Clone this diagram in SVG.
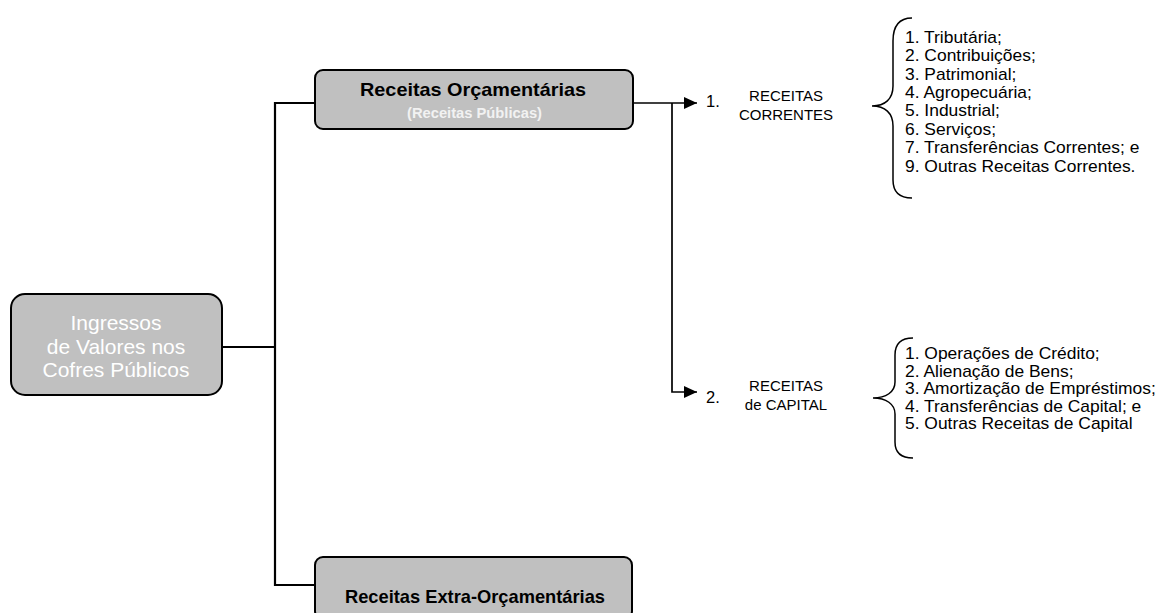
<svg xmlns="http://www.w3.org/2000/svg" width="1161" height="613" viewBox="0 0 1161 613">
<defs>
<style>
.box{fill:#c0c0c0;stroke:#000;stroke-width:2}
.t{font-family:"Liberation Sans",Arial,sans-serif}
.ing{font-size:21px;fill:#fff;text-anchor:middle}
.ttl{font-size:19px;font-weight:bold;fill:#000}
.sub{font-size:14px;font-weight:bold;fill:#f2f2f2}
.cat{font-size:15px;fill:#000;text-anchor:middle}
.num{font-size:16.5px;fill:#000}
.lst{font-size:16px;fill:#000}
.ln{fill:none;stroke:#000;stroke-width:2.2}
.lr{fill:none;stroke:#000;stroke-width:1.7}
.br{fill:none;stroke:#000;stroke-width:1.5}
</style>
<marker id="arr" markerWidth="14" markerHeight="12" refX="13" refY="6" orient="auto" markerUnits="userSpaceOnUse">
<path d="M0,0 L13,6 L0,12 z" fill="#000"/>
</marker>
</defs>
<rect width="1161" height="613" fill="#fff"/>

<g id="connectors">
<path class="ln" d="M222,347 H275"/>
<path class="ln" d="M315,103 H275 V585 H315"/>
<path class="lr" d="M633,103 H697" marker-end="url(#arr)"/>
<path class="lr" d="M672,103 V392 H697" marker-end="url(#arr)"/>
</g>

<g id="ingressos">
<rect class="box" x="11" y="294" width="211" height="101" rx="14"/>
<text class="t ing" x="116" y="330">Ingressos</text>
<text class="t ing" x="116" y="353.5">de Valores nos</text>
<text class="t ing" x="116" y="377">Cofres Públicos</text>
</g>

<g id="orcamentarias">
<rect class="box" x="315" y="70" width="318" height="59" rx="8"/>
<text class="t ttl" x="360" y="96" textLength="226" lengthAdjust="spacingAndGlyphs">Receitas Orçamentárias</text>
<text class="t sub" x="407" y="118" textLength="135" lengthAdjust="spacingAndGlyphs">(Receitas Públicas)</text>
</g>

<g id="extra">
<rect class="box" x="315" y="557" width="317" height="62" rx="8"/>
<text class="t ttl" x="345" y="603" textLength="260" lengthAdjust="spacingAndGlyphs">Receitas Extra-Orçamentárias</text>
</g>

<g id="correntes">
<text class="t num" x="706" y="107">1.</text>
<text class="t cat" x="786" y="100.5">RECEITAS</text>
<text class="t cat" x="786" y="119.5">CORRENTES</text>
</g>

<g id="capital">
<text class="t num" x="706" y="403">2.</text>
<text class="t cat" x="786" y="391">RECEITAS</text>
<text class="t cat" x="786" y="410">de CAPITAL</text>
</g>

<g id="lista-correntes">
<path class="br" d="M912,18 C899,18 893,26 893,41 L893,86 C893,99 885,106 872,106 C885,106 893,113 893,126 L893,180 C893,192 899,198 912,198"/>
<g transform="translate(905,0) scale(1.09,1)">
<text class="t lst" x="0" y="42.7">1. Tributária;</text>
<text class="t lst" x="0" y="61.1">2. Contribuições;</text>
<text class="t lst" x="0" y="79.6">3. Patrimonial;</text>
<text class="t lst" x="0" y="98">4. Agropecuária;</text>
<text class="t lst" x="0" y="116.4">5. Industrial;</text>
<text class="t lst" x="0" y="134.9">6. Serviços;</text>
<text class="t lst" x="0" y="153.3">7. Transferências Correntes; e</text>
<text class="t lst" x="0" y="171.7">9. Outras Receitas Correntes.</text>
</g>
</g>

<g id="lista-capital">
<path class="br" d="M913,338 C900,338 895,344 895,355 L895,382 C895,392 886,398 873,398 C886,398 895,404 895,414 L895,442 C895,452 900,458 913,458"/>
<g transform="translate(905,0) scale(1.09,1)">
<text class="t lst" x="0" y="359.5">1. Operações de Crédito;</text>
<text class="t lst" x="0" y="376.9">2. Alienação de Bens;</text>
<text class="t lst" x="0" y="394.3">3. Amortização de Empréstimos;</text>
<text class="t lst" x="0" y="411.8">4. Transferências de Capital; e</text>
<text class="t lst" x="0" y="429.2">5. Outras Receitas de Capital</text>
</g>
</g>
</svg>
